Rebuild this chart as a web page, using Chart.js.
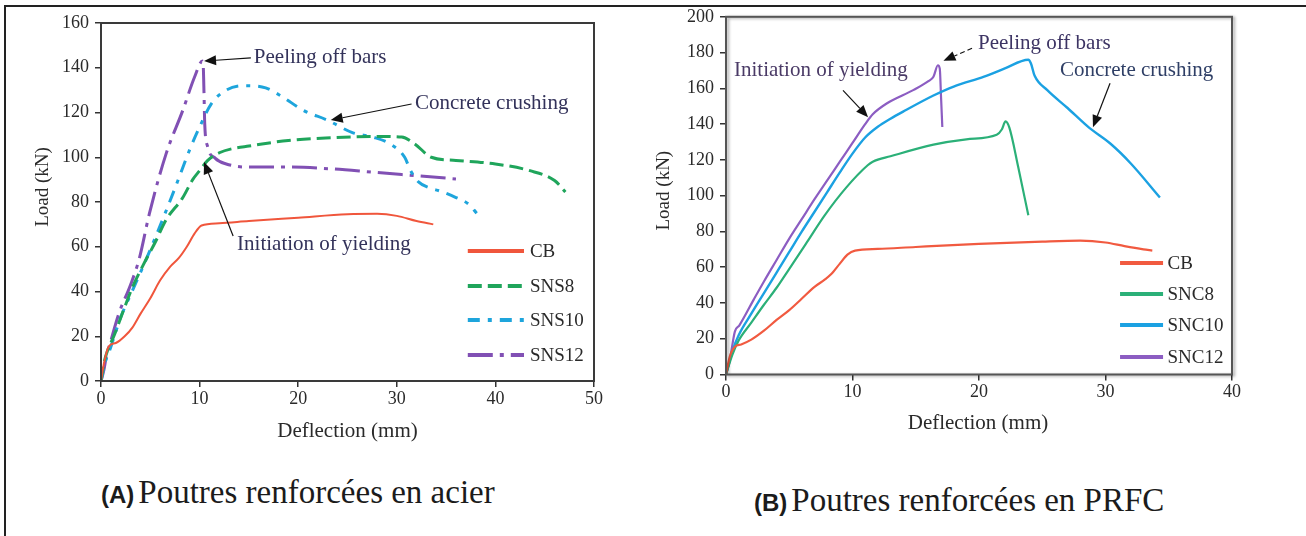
<!DOCTYPE html>
<html>
<head>
<meta charset="utf-8">
<title>Load–deflection curves</title>
<script src="https://cdn.jsdelivr.net/npm/chart.js@4.4.1/dist/chart.umd.min.js"></script>
<style>
  html, body { margin: 0; padding: 0; background: #fff; }
  body { width: 1306px; height: 536px; position: relative; overflow: hidden; }
  #frame { position: absolute; left: 4px; top: 5px; width: 1320px; height: 560px;
           border-top: 2px solid #222; border-left: 2px solid #222; }
  .panel { position: absolute; top: 0; }
  #pa { left: 0; width: 640px; height: 470px; }
  #pb { left: 650px; width: 656px; height: 470px; }
  .cap { position: absolute; white-space: nowrap; color: #1b1b1b; line-height: 40px; }
  .cap b { font-family: "Liberation Sans", Arial, sans-serif; font-weight: bold; font-size: 24px; }
  .cap span { font-family: "Liberation Serif", "Times New Roman", serif; font-size: 33px; }
</style>
</head>
<body>
<div id="frame"></div>
<div class="panel" id="pa"><canvas id="ca" width="640" height="470"></canvas></div>
<div class="panel" id="pb"><canvas id="cb" width="656" height="470"></canvas></div>
<div class="cap" style="left:101px; top:472px;"><b>(A)</b> <span>Poutres renforcées en acier</span></div>
<div class="cap" style="left:754px; top:480px;"><b>(B)</b> <span>Poutres renforcées en PRFC</span></div>

<script>
// ---- Panel A: steel-reinforced beams, [deflection mm, load kN] ----
const namesA = ['CB', 'SNS8', 'SNS10', 'SNS12'];
const xTicksA = [0, 10, 20, 30, 40, 50];
const yTicksA = [0, 20, 40, 60, 80, 100, 120, 140, 160];

const cbA = [[0,0],[0.3,8],[0.8,15.5],[1.5,17],[2.4,20],[3.2,24],[4,30],[5,37],[6,45],[7,51],[7.9,55],
  [8.7,60],[9.5,66],[10.2,69.5],[12,70.5],[15,71.5],[20,73],[25,74.5],[28,74.7],[30,73.8],[32,71.5],[33.7,70]];
const sns8A = [[0,0],[0.3,8],[0.7,14],[1.3,20],[2.4,33],[3.2,42],[4.3,52],[5.5,62],[6.6,72],[8.3,82],[9.3,90],
  [10,94],[10.8,98.5],[12,102],[13.5,104],[15,105],[19,107.5],[23.4,108.7],[27.6,109.3],[30.5,109],[31.8,106],
  [33.5,100],[36,98.6],[40,97],[43.5,94],[46,89.6],[47.1,84.5]];
const sns10A = [[0,0],[0.4,8],[0.9,14],[2,28.5],[3.2,40.5],[4.3,51.5],[5.5,64],[7.4,85],[9.1,104.5],[10,113.5],
  [11.2,124],[12.7,130],[14.6,132],[16.7,131],[18.4,127],[20.5,121],[23,116.5],[25.5,111],[27.6,109],[29.3,106],
  [30.8,100],[31.4,94],[32.2,89],[33.5,86],[34.3,85],[36,82],[37.3,79],[38.1,75]];
const sns12A = [[0,0],[0.3,5],[0.5,10],[1,18],[1.8,30],[3,43],[3.9,55],[4.9,74.7],[6.6,101.5],[8.3,121],[9.5,136],
  [10.3,143],[10.38,140],[10.45,128],[10.52,115],[10.8,105],[11.6,99.5],[12.7,97],[15,95.6],[19,95.6],[23.4,94.8],
  [27.6,93.3],[31.8,91.8],[36,90.3]];

// ---- Panel B: CFRP-reinforced beams, [deflection mm, load kN] ----
const namesB = ['CB', 'SNC8', 'SNC10', 'SNC12'];
const xTicksB = [0, 10, 20, 30, 40];
const yTicksB = [0, 20, 40, 60, 80, 100, 120, 140, 160, 180, 200];

const cbB = [[0,0],[0.3,10],[0.7,15.5],[1.2,16.8],[2,19.5],[3,24.5],[4,30.5],[5,36],[6,42.5],[7,49],[7.8,53],
  [8.3,56],[9,62],[9.6,67],[10.2,69.3],[12,70.2],[15,71.3],[20,73],[25,74.3],[28,74.8],[30,73.8],[31.5,71.8],
  [33,70],[33.7,69.3]];
const snc8B = [[0,0],[0.5,11],[1,19],[2,29],[3,39],[4,48.5],[4.9,58],[6.4,74],[7.8,89],[9.5,104.5],[11.2,117],
  [11.6,119],[13,122],[16.4,128.5],[19,131.5],[21.4,134],[21.8,137],[22.1,141.5],[22.4,138],[23.1,116],[23.9,89]];
const snc10B = [[0,0],[0.5,13],[1,22],[2,34],[3,45.5],[4,57],[5,68.5],[6,80],[7,91],[8,102],[9,113],[10,123.5],
  [11,132.5],[12,138.5],[13,143],[14,147],[16.4,156],[18,161],[20.4,166.5],[22,171],[23.9,176],[24.1,174],
  [24.4,167],[25.4,159],[27,149],[28.7,138],[30.4,129],[32,118],[34.3,99]];
const snc12B = [[0,0],[0.3,8],[0.7,24],[1.06,27.5],[2.2,42],[3,52],[4,64],[5,76],[6,87],[7,98],[8,108.5],[9,119],
  [10,129.5],[11,140],[11.6,145.5],[12.7,151.5],[14.8,159],[16,164],[16.4,166.5],[16.75,172.9],[16.9,171],
  [17,155],[17.1,138.4]];

const toPts = arr => arr.map(([x, y]) => ({ x, y }));

function line(label, pts, color, width, dash) {
  return {
    label, data: toPts(pts), borderColor: color, backgroundColor: color,
    borderWidth: width, borderDash: dash || [], pointRadius: 0, fill: false,
    cubicInterpolationMode: 'monotone', borderCapStyle: 'butt', borderJoinStyle: 'round'
  };
}

// Frame, in-plot legend, callouts and axis titles drawn on top of the plotted curves
function makeDecor(cfg) {
  return {
    id: 'decor',
    afterDatasetsDraw(chart) {
      const { ctx, chartArea: ca, scales: { x, y } } = chart;
      const px = v => x.getPixelForValue(v), py = v => y.getPixelForValue(v);
      ctx.save();

      // plot box
      if (cfg.shadow) {
        ctx.shadowColor = 'rgba(0,0,0,0.35)'; ctx.shadowBlur = 3;
        ctx.shadowOffsetX = 2; ctx.shadowOffsetY = 1;
      }
      ctx.strokeStyle = cfg.frameColor; ctx.lineWidth = 2; ctx.setLineDash([]);
      ctx.strokeRect(ca.left, ca.top, ca.right - ca.left, ca.bottom - ca.top);
      ctx.shadowColor = 'transparent'; ctx.shadowBlur = 0; ctx.shadowOffsetX = 0; ctx.shadowOffsetY = 0;

      // legend
      const lg = cfg.legend;
      chart.data.datasets.forEach((ds, i) => {
        const yy = py(lg.ys[i]);
        ctx.beginPath();
        ctx.setLineDash(ds.borderDash || []);
        ctx.strokeStyle = ds.borderColor; ctx.lineWidth = lg.width; ctx.lineCap = 'butt';
        ctx.moveTo(px(lg.x0), yy); ctx.lineTo(px(lg.x1), yy); ctx.stroke();
        ctx.setLineDash([]);
        ctx.font = lg.font; ctx.fillStyle = '#2a2a2a';
        ctx.textBaseline = 'middle'; ctx.textAlign = 'left';
        ctx.fillText(ds.label, px(lg.xt), yy + 1);
      });

      // callouts
      cfg.notes.forEach(n => {
        ctx.font = cfg.noteFont; ctx.fillStyle = n.color || '#33325a';
        ctx.textBaseline = 'middle'; ctx.textAlign = 'left';
        ctx.fillText(n.text, px(n.at[0]), py(n.at[1]));
        const x1 = px(n.from[0]), y1 = py(n.from[1]), x2 = px(n.to[0]), y2 = py(n.to[1]);
        const ang = Math.atan2(y2 - y1, x2 - x1), hl = 12, hw = 5;
        const bx = x2 - hl * Math.cos(ang), by = y2 - hl * Math.sin(ang);
        ctx.beginPath(); ctx.strokeStyle = '#111'; ctx.lineWidth = 1.2;
        ctx.setLineDash(n.dash || []);
        ctx.moveTo(x1, y1); ctx.lineTo(bx, by); ctx.stroke();
        ctx.setLineDash([]);
        ctx.beginPath(); ctx.fillStyle = '#111';
        ctx.moveTo(x2, y2);
        ctx.lineTo(bx + hw * Math.sin(ang), by - hw * Math.cos(ang));
        ctx.lineTo(bx - hw * Math.sin(ang), by + hw * Math.cos(ang));
        ctx.closePath(); ctx.fill();
      });

      // axis titles
      ctx.fillStyle = '#2a2a2a'; ctx.textAlign = 'center'; ctx.textBaseline = 'middle';
      ctx.font = cfg.xTitleFont;
      ctx.fillText('Deflection (mm)', (ca.left + ca.right) / 2 + cfg.xTitle[0], ca.bottom + cfg.xTitle[1]);
      ctx.save();
      ctx.translate(ca.left + cfg.yTitle[0], (ca.top + ca.bottom) / 2 + cfg.yTitle[1]);
      ctx.rotate(-Math.PI / 2);
      ctx.font = cfg.yTitleFont;
      ctx.fillText('Load (kN)', 0, 0);
      ctx.restore();

      ctx.restore();
    }
  };
}

function axisOpts(ticks, fixed, horizontal) {
  return {
    type: 'linear',
    min: ticks[0], max: ticks[ticks.length - 1],
    border: { display: false },
    grid: { display: true, drawOnChartArea: false, drawTicks: true, tickLength: 6, color: '#333', lineWidth: 1.5 },
    ticks: {
      stepSize: ticks[1] - ticks[0], autoSkip: false, maxRotation: 0,
      padding: horizontal ? 1 : 6, color: '#2a2a2a',
      font: { family: '"Liberation Serif", "Times New Roman", serif', size: 18 }
    },
    afterFit(scale) { if (horizontal) scale.height = fixed; else scale.width = fixed; }
  };
}

function makeChart(id, datasets, xTicks, yTicks, geom, decor) {
  return new Chart(document.getElementById(id), {
    type: 'line',
    data: { datasets },
    options: {
      responsive: false, animation: false, events: [],
      layout: { padding: { left: 0, top: geom.top, right: geom.right, bottom: 0 } },
      plugins: { legend: { display: false }, tooltip: { enabled: false } },
      scales: {
        x: axisOpts(xTicks, geom.xh, true),
        y: axisOpts(yTicks, geom.yw, false)
      }
    },
    plugins: [makeDecor(decor)]
  });
}

// Panel A
makeChart('ca', [
  line(namesA[0], cbA, '#f0563c', 2),
  line(namesA[1], sns8A, '#1fa55b', 3, [14, 6]),
  line(namesA[2], sns10A, '#1ea5dc', 3, [12, 8, 4, 8]),
  line(namesA[3], sns12A, '#8150b4', 3, [25, 7, 4, 7])
], xTicksA, yTicksA, { top: 23, right: 46, xh: 89, yw: 101 }, {
  frameColor: '#3a3a3a', shadow: false,
  legend: { x0: 37.2, x1: 42.9, xt: 43.5, ys: [58.1, 42.5, 27.3, 11.6], width: 4,
            font: '19px "Liberation Serif", "Times New Roman", serif' },
  noteFont: '21px "Liberation Serif", "Times New Roman", serif',
  notes: [
    { text: 'Peeling off bars', at: [15.5, 144.8], from: [15.2, 144.4], to: [10.45, 143] },
    { text: 'Concrete crushing', at: [31.85, 124.2], from: [31.5, 123.8], to: [23.3, 116.6] },
    { text: 'Initiation of yielding', at: [13.8, 60.8], from: [13.4, 64.8], to: [10.45, 97.9] }
  ],
  xTitleFont: '21px "Liberation Serif", "Times New Roman", serif', xTitle: [0, 50],
  yTitleFont: '19px "Liberation Serif", "Times New Roman", serif', yTitle: [-58, -15]
});

// Panel B
makeChart('cb', [
  line(namesB[0], cbB, '#f15a40', 2.2),
  line(namesB[1], snc8B, '#2bb078', 2.2),
  line(namesB[2], snc10B, '#1ba1e2', 2.4),
  line(namesB[3], snc12B, '#8c5dc2', 2.2)
], xTicksB, yTicksB, { top: 16.5, right: 74, xh: 95.5, yw: 76 }, {
  frameColor: '#555', shadow: true,
  legend: { x0: 31.15, x1: 34.55, xt: 34.9, ys: [62.3, 45, 27.7, 9.8], width: 4,
            font: '19px "Liberation Serif", "Times New Roman", serif' },
  noteFont: '21px "Liberation Serif", "Times New Roman", serif',
  notes: [
    { text: 'Peeling off bars', at: [19.92, 185.2], from: [19.45, 182.4], to: [17.19, 175.4], dash: [5, 3], color: '#3d3464' },
    { text: 'Initiation of yielding', at: [0.63, 170.1], from: [9.25, 158.9], to: [11.23, 143.9], color: '#4a3a66' },
    { text: 'Concrete crushing', at: [26.4, 170.1], from: [30.36, 162.8], to: [29.01, 138.3], color: '#2f3f66' }
  ],
  xTitleFont: '21px "Liberation Serif", "Times New Roman", serif', xTitle: [-1, 48.5],
  yTitleFont: '19px "Liberation Serif", "Times New Roman", serif', yTitle: [-61.5, -5]
});
</script>
</body>
</html>
